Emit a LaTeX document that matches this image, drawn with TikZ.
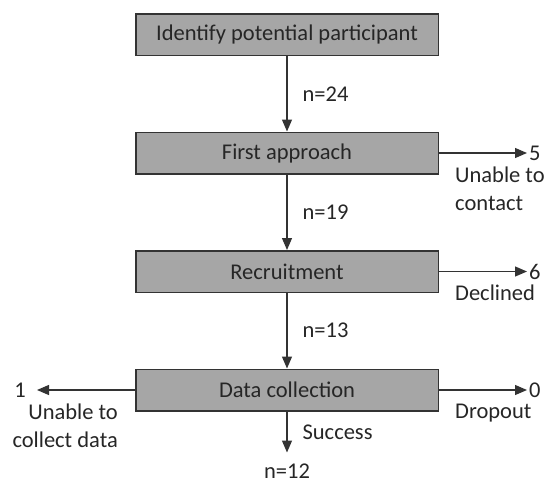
\documentclass[tikz,border=0pt]{standalone}
\usepackage{fontspec}
\setmainfont{Carlito}
\usepackage{xcolor}
\usepackage{tikz}
\usetikzlibrary{arrows.meta, positioning}
\definecolor{stagegray}{RGB}{166,166,166}
\definecolor{stageline}{RGB}{51,51,51}
\definecolor{stagetext}{RGB}{38,38,38}

\begin{document}
\begin{tikzpicture}[
    x=1pt, y=1pt,
    node distance=75.5pt,
    every node/.style={font=\fontsize{22.5}{28}\selectfont, text=stagetext},
    stage/.style={rectangle, minimum width=302.5pt, minimum height=41.5pt, text centered, draw=stageline, line width=1.5pt, fill=stagegray},
    arrow/.style={-{Triangle[length=12pt, width=10pt]}, line width=1.2pt, draw=stageline},
    count/.style={inner sep=2pt},
    flowlabel/.style={inner sep=0pt},
    reason/.style={inner sep=0pt}
]

\useasboundingbox (0,0) rectangle (546,-485);

\node[stage] (identify) at (287,-34.5) {Identify potential participant};
\node[stage, below=of identify] (approach) {First approach};
\node[stage, below=of approach] (recruit) {Recruitment};
\node[stage, below=of recruit] (collection) {Data collection};

% losses on the right
\node[count, right=88pt of approach] (drop5) {5};
\node[reason, align=left, below right=-8pt and 16pt of approach.south east] (contactfail) {Unable to\\contact};
\node[count, right=88pt of recruit] (drop6) {6};
\node[reason, align=left, below right=-8pt and 16pt of recruit.south east] (declined) {Declined};
\node[count, right=88pt of collection] (drop0) {0};
\node[reason, align=left, below right=-8pt and 16pt of collection.south east] (dropout) {Dropout};

% loss on the left
\node[count, inner xsep=11pt, left=98pt of collection] (drop1) {1};
\node[reason, align=right, below left=-8pt and 17pt of collection.south west] (collectfail) {Unable to\\collect data};

% outcome
\node[flowlabel, outer sep=11pt, below=41pt of collection] (n12) {n=12};

\draw[arrow] (identify) -- node[flowlabel, right=15pt] (n24) {n=24} (approach);
\draw[arrow] (approach) -- node[flowlabel, right=15pt] (n19) {n=19} (recruit);
\draw[arrow] (recruit) -- node[flowlabel, right=15pt] (n13) {n=13} (collection);
\draw[arrow] (collection) -- node[flowlabel, right=15pt] (success) {Success} (n12);

\draw[arrow] (approach) -- (drop5);
\draw[arrow] (recruit) -- (drop6);
\draw[arrow] (collection) -- (drop0);
\draw[arrow] (collection) -- (drop1);

\end{tikzpicture}
\end{document}
